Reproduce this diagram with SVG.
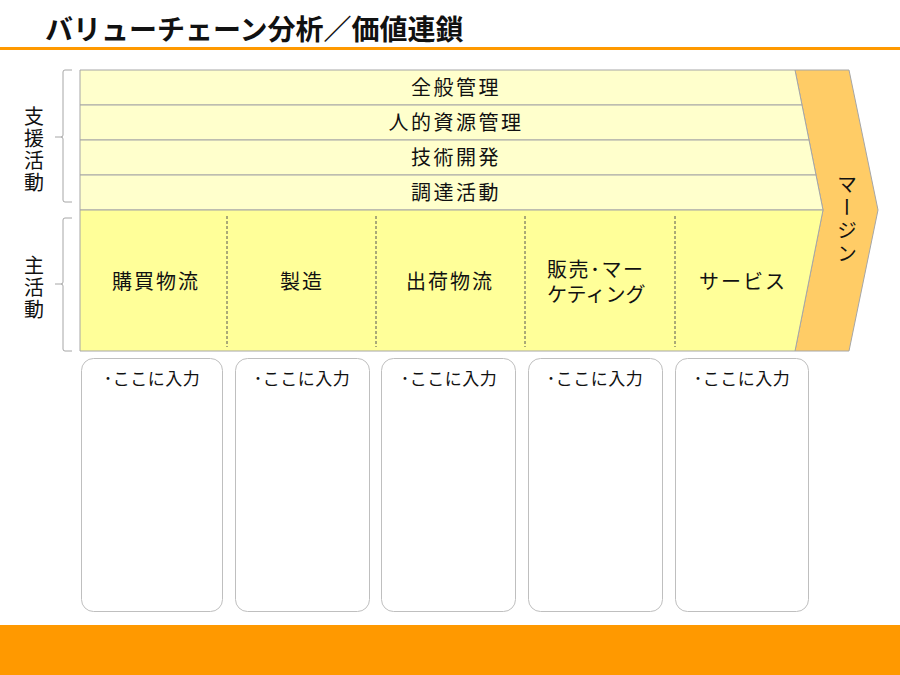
<svg xmlns="http://www.w3.org/2000/svg" width="900" height="675" viewBox="0 0 900 675">
<style>
text{font-family:"Noto Sans CJK JP","Noto Sans",sans-serif;fill:#111}
.t{font-size:20px;text-anchor:middle;letter-spacing:2.5px}
.p{font-size:20px;text-anchor:middle;letter-spacing:2px}
.v{font-size:20px;writing-mode:vertical-rl;text-anchor:middle;letter-spacing:2px}
.b{font-size:17px;text-anchor:middle;letter-spacing:0.5px}
.row{fill:#FFFFCC;stroke:#A6A6A6;stroke-width:1}
.prim{fill:#FFFF99;stroke:#A6A6A6;stroke-width:1}
.div{stroke:#555;stroke-width:1;stroke-dasharray:3,2}
.box{fill:#fff;stroke:#BFBFBF;stroke-width:1}
.br{fill:none;stroke:#A6A6A6;stroke-width:1}
</style>
<rect width="900" height="675" fill="#fff"/>
<g id="title">
<text x="45" y="40" style="font-size:28px;font-weight:bold">バリューチェーン分析／価値連鎖</text>
<rect x="0" y="47" width="900" height="3" fill="#FF9900"/>
</g>
<g id="footer"><rect x="0" y="625" width="900" height="50" fill="#FF9900"/></g>
<g id="support-bracket">
<path class="br" d="M72,70 H65 Q63,70 63,72 V135 Q63,137 61,137 H55 M61,137 Q63,137 63,139 V200 Q63,202 65,202 H72"/>
<text class="v" x="34" y="150">支援活動</text>
</g>
<g id="primary-bracket">
<path class="br" d="M72,218 H65 Q63,218 63,220 V282 Q63,284 61,284 H55 M61,284 Q63,284 63,286 V349 Q63,351 65,351 H72"/>
<text class="v" x="34" y="288">主活動</text>
</g>
<g id="margin">
<polygon points="795,70 849,70 878,210 849,351 795,351 823,210" fill="#FFCC66" stroke="#A6A6A6" stroke-width="1"/>
<text class="v" x="847" y="220" style="letter-spacing:3px">マージン</text>
</g>
<g id="support-rows">
<g id="row-general"><polygon class="row" points="80,70 795,70 802,105 80,105"/><text class="t" x="456" y="95">全般管理</text></g>
<g id="row-hr"><polygon class="row" points="80,105 802,105 809,140 80,140"/><text class="t" x="456" y="130">人的資源管理</text></g>
<g id="row-tech"><polygon class="row" points="80,140 809,140 816,175 80,175"/><text class="t" x="456" y="165">技術開発</text></g>
<g id="row-proc"><polygon class="row" points="80,175 816,175 823,210 80,210"/><text class="t" x="456" y="200">調達活動</text></g>
</g>
<g id="primary">
<polygon class="prim" points="80,210 823,210 795,351 80,351"/>
</g>
<g id="connectors">
<line class="div" x1="227" y1="216" x2="227" y2="347"/>
<line class="div" x1="376" y1="216" x2="376" y2="347"/>
<line class="div" x1="525" y1="216" x2="525" y2="347"/>
<line class="div" x1="675" y1="216" x2="675" y2="347"/>
</g>
<g id="inbound"><text class="p" x="156" y="289">購買物流</text></g>
<g id="operations"><text class="p" x="302" y="289">製造</text></g>
<g id="outbound"><text class="p" x="450" y="289">出荷物流</text></g>
<g id="marketing"><text x="547" y="277" style="font-size:20px;letter-spacing:1.5px">販売･マー</text><text x="547" y="302" style="font-size:20px">ケティング</text></g>
<g id="service"><text class="p" x="743" y="289">サービス</text></g>
<g id="box1"><rect class="box" x="81.5" y="358.5" width="141" height="253" rx="12"/><text class="b" x="152" y="385">･ここに入力</text></g>
<g id="box2"><rect class="box" x="235.5" y="358.5" width="134" height="253" rx="12"/><text class="b" x="302" y="385">･ここに入力</text></g>
<g id="box3"><rect class="box" x="381.5" y="358.5" width="134" height="253" rx="12"/><text class="b" x="449" y="385">･ここに入力</text></g>
<g id="box4"><rect class="box" x="528.5" y="358.5" width="134" height="253" rx="12"/><text class="b" x="595" y="385">･ここに入力</text></g>
<g id="box5"><rect class="box" x="675.5" y="358.5" width="133" height="253" rx="12"/><text class="b" x="742" y="385">･ここに入力</text></g>
</svg>
